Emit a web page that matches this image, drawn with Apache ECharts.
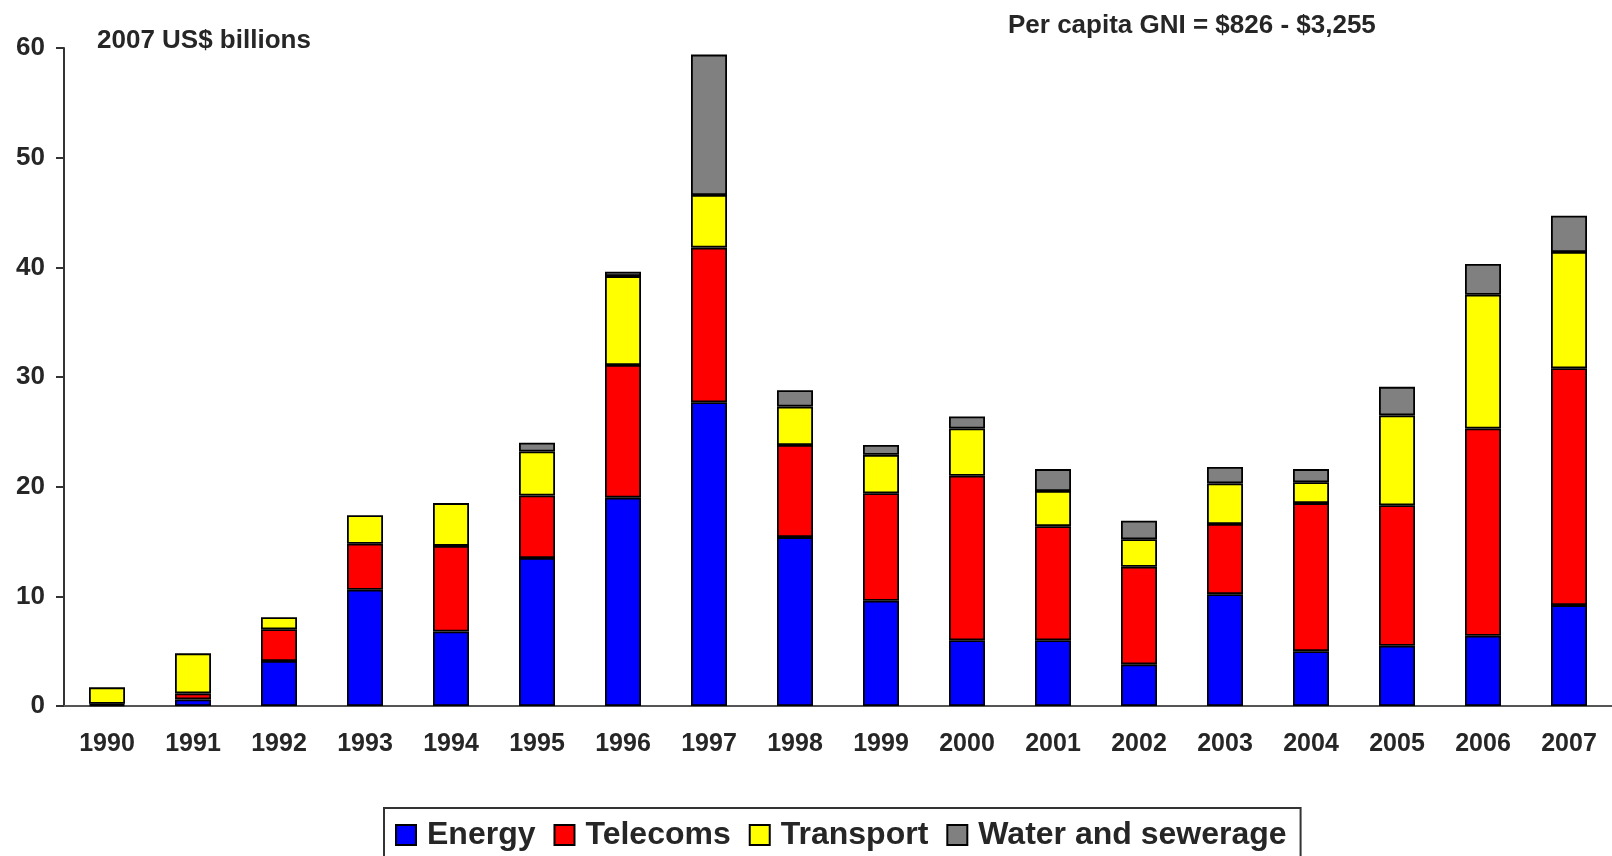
<!DOCTYPE html>
<html>
<head>
<meta charset="utf-8">
<script src="https://cdn.jsdelivr.net/npm/echarts@6/dist/echarts.min.js"></script>
<style>
  html, body { margin: 0; padding: 0; background: #ffffff; }
  #chart { width: 1612px; height: 856px; }
</style>
</head>
<body>
<div id="chart"></div>
<script>
// Infrastructure investment by sector, 2007 US$ billions
const years = ['1990', '1991', '1992', '1993', '1994', '1995', '1996', '1997', '1998',
               '1999', '2000', '2001', '2002', '2003', '2004', '2005', '2006', '2007'];
const energy    = [0.1, 0.6, 4.1, 10.6, 6.8, 13.5, 19.0, 27.7, 15.4, 9.6, 6.0, 6.0, 3.8, 10.2, 5.0, 5.5, 6.4, 9.2];
const telecoms  = [0.1, 0.55, 2.9, 4.2, 7.8, 5.7, 12.1, 14.1, 8.4, 9.8, 15.0, 10.4, 8.9, 6.4, 13.5, 12.8, 18.9, 21.6];
const transport = [1.5, 3.65, 1.1, 2.6, 3.9, 4.0, 8.1, 4.8, 3.5, 3.5, 4.3, 3.2, 2.5, 3.7, 1.9, 8.2, 12.2, 10.6];
const water     = [null, null, null, null, null, 0.8, 0.4, 12.8, 1.5, 0.9, 1.1, 2.0, 1.7, 1.5, 1.2, 2.6, 2.8, 3.3];
const yTicks = { min: 0, max: 60, interval: 10 };

const FONT = '"Liberation Sans", Arial, sans-serif';
const TEXT = '#262626';

const sectors = [
  { name: 'Energy', data: energy, color: '#0000ff' },
  { name: 'Telecoms', data: telecoms, color: '#ff0000' },
  { name: 'Transport', data: transport, color: '#ffff00' },
  { name: 'Water and sewerage', data: water, color: '#808080' }
];

const chart = echarts.init(document.getElementById('chart'), null, { renderer: 'canvas' });

chart.setOption({
  backgroundColor: '#ffffff',
  animation: false,
  title: [
    {
      text: '2007 US$ billions',
      left: 92, top: 23,
      textStyle: { fontFamily: FONT, fontSize: 26, fontWeight: 'bold', color: TEXT }
    },
    {
      text: 'Per capita GNI = $826 - $3,255',
      left: 1003, top: 8,
      textStyle: { fontFamily: FONT, fontSize: 26, fontWeight: 'bold', color: TEXT }
    }
  ],
  legend: {
    left: 384, top: 808,
    padding: [11, 14, 30, 11],
    borderColor: '#333333', borderWidth: 2,
    itemWidth: 20, itemHeight: 20, itemGap: 18,
    icon: 'rect',
    textStyle: { fontFamily: FONT, fontSize: 32, fontWeight: 'bold', color: TEXT, padding: [0, 0, 0, 6] },
    data: sectors.map(s => s.name)
  },
  grid: { left: 64, right: 0, top: 48, bottom: 150, containLabel: false },
  xAxis: {
    type: 'category',
    data: years,
    axisLine: { lineStyle: { color: '#555555', width: 2 } },
    axisTick: { show: false },
    axisLabel: { margin: 26, fontFamily: FONT, fontSize: 25, fontWeight: 'bold', color: TEXT }
  },
  yAxis: {
    type: 'value',
    min: yTicks.min, max: yTicks.max, interval: yTicks.interval,
    axisLine: { show: true, lineStyle: { color: '#333333', width: 2 } },
    axisTick: { show: true, length: 8, lineStyle: { color: '#333333', width: 2 } },
    splitLine: { show: false },
    axisLabel: { margin: 19, fontFamily: FONT, fontSize: 26, fontWeight: 'bold', color: TEXT }
  },
  series: sectors.map(s => ({
    name: s.name,
    type: 'bar',
    stack: 'total',
    barWidth: 36,
    data: s.data,
    itemStyle: { color: s.color, borderColor: '#000000', borderWidth: 1.8 }
  }))
});
</script>
</body>
</html>
